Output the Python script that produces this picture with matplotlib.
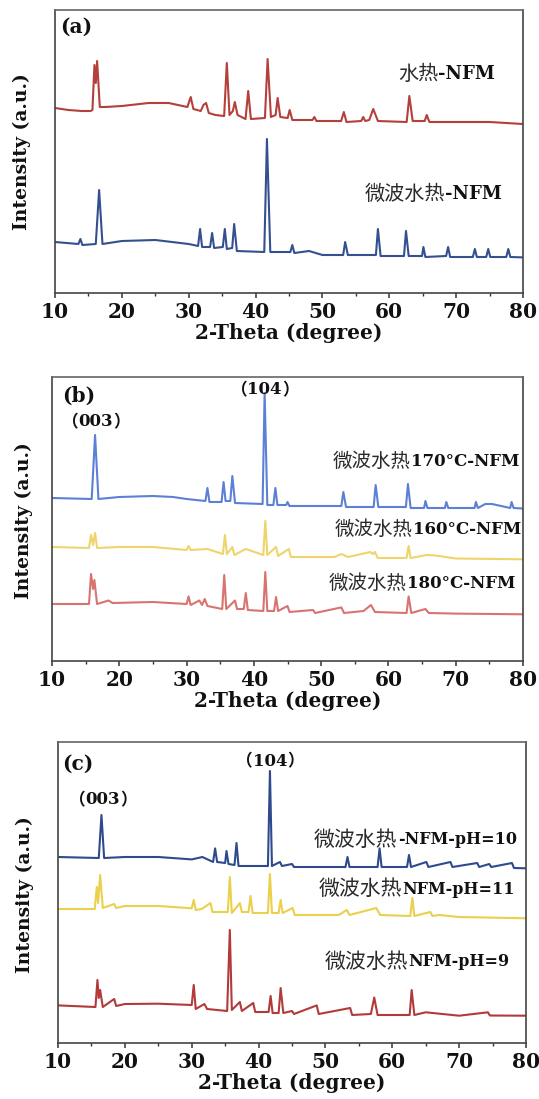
import matplotlib
matplotlib.use("Agg")
import matplotlib.pyplot as plt

# ---------------- data (2-theta in degrees, intensity in arbitrary units) ----------------
A_RED_X = [10, 12, 14, 15.3, 15.6, 15.9, 16.1, 16.3, 16.7, 17.5, 20, 24, 27, 29.8, 30.3, 30.7, 31.8, 32.2, 32.6, 33.0,
           34, 35.3, 35.7, 36.1, 36.6, 36.9, 37.3, 38.5, 38.9, 39.3, 41.4, 41.8, 42.3, 43.0, 43.3, 43.7, 44.8, 45.1,
           45.5, 48.5, 48.8, 49.1, 52.8, 53.2, 53.6, 55.8, 56.1, 56.4, 57.0, 57.6, 58.3, 62.6, 63.0, 63.5, 65.3,
           65.6, 66.0, 70, 75, 80]
A_RED_Y = [185, 183, 182, 182, 183, 228, 210, 232, 186, 186, 187, 190, 190, 186, 196, 184, 182, 188, 190, 180,
           178, 177, 230, 178, 182, 191, 178, 174, 202, 174, 175, 234, 176, 178, 195, 176, 175, 183,
           173, 173, 176, 172, 172, 181, 171, 172, 176, 172, 173, 184, 172, 171, 197, 172, 172,
           178, 171, 171, 171, 169]

A_BLUE_X = [10, 13.5, 13.8, 14.1, 16.1, 16.6, 17.1, 20, 25, 30, 31.4, 31.7, 32.0, 33.2, 33.5, 33.8, 35.1, 35.4, 35.7,
            36.5, 36.8, 37.2, 41.3, 41.7, 42.2, 45.2, 45.5, 45.8, 48, 50, 53.1, 53.4, 53.8, 58.0, 58.3, 58.7, 62.2,
            62.5, 62.9, 64.9, 65.1, 65.4, 68.5, 68.8, 69.1, 72.5, 72.8, 73.1, 74.5, 74.8, 75.1, 77.5, 77.8, 78.1, 80]
A_BLUE_Y = [51, 49, 54, 48, 49, 103, 49, 52, 53, 49, 47, 64, 46, 46, 60, 45, 46, 64, 44,
            45, 69, 42, 41, 154, 41, 41, 48, 40, 42, 38, 38, 51, 38, 38, 64, 37, 37,
            62, 37, 37, 46, 36, 37, 46, 36, 36, 44, 36, 36, 44, 36, 36, 44, 36, 35.6]

B_BLUE_X = [10, 15.9, 16.4, 16.9, 20, 25, 28, 30, 32.8, 33.1, 33.4, 35.2, 35.5, 35.8, 36.5, 36.8, 37.2, 41.3, 41.6,
            42.0, 42.9, 43.2, 43.5, 44.8, 45.0, 45.3, 52, 53.0, 53.3, 53.7, 57.8, 58.1, 58.5, 62.6, 62.9, 63.3,
            65.3, 65.5, 65.8, 68.4, 68.6, 68.9, 72.8, 73.0, 73.3, 74.4, 75.4, 78.1, 78.3, 78.6, 80]
B_BLUE_Y = [163, 162, 226, 162, 164, 165, 164, 162, 160, 173, 159, 159, 179, 160, 160, 185, 158, 157, 268,
            156, 156, 173, 156, 156, 159, 155, 155, 155, 169, 154, 154, 176, 154, 154, 177, 153,
            153, 160, 153, 153, 159, 153, 153, 159, 153, 157, 157, 153, 159, 153, 152.5]

B_YEL_X = [10, 15.5, 15.8, 16.1, 16.4, 16.7, 20, 25, 30, 30.3, 30.6, 33.1, 35.4, 35.7, 36.0, 36.8, 37.1, 38.8, 41.4,
           41.7, 42.0, 43.3, 43.6, 45.2, 45.5, 52, 53.0, 54, 57.3, 57.7, 58.0, 58.4, 62.7, 63.0, 63.3, 65.7, 67,
           70, 80]
B_YEL_Y = [114, 113, 126, 116, 128, 113, 114, 114, 111, 115, 111, 112, 107, 126, 107, 114, 106, 112, 106,
           140, 106, 114, 105, 112, 104, 104, 107, 104, 109, 107, 109, 103, 103, 115, 103, 106, 105.5,
           102.5, 101.7]

B_RED_X = [10, 15.5, 15.8, 16.1, 16.3, 16.7, 18.4, 19, 25, 30, 30.3, 30.6, 31.9, 32.3, 32.7, 33.1, 35.3, 35.6, 35.9,
           37.2, 37.5, 38.5, 38.8, 39.1, 41.4, 41.7, 42.0, 43.0, 43.3, 43.6, 45.0, 45.3, 48.8, 49.1, 53.0, 53.4,
           56.3, 57.4, 58.0, 62.7, 63.0, 63.4, 65.5, 66, 70, 80]
B_RED_Y = [57, 57, 87, 72, 81, 57, 60.5, 58, 59, 57, 64.6, 56, 60.5, 56, 62, 55, 52, 86, 52,
           60.5, 52, 52, 68, 51, 50, 89, 50, 50, 64, 50, 55, 49, 51, 48, 53.6, 48,
           50, 56, 49, 48, 64.6, 48, 52, 48, 47.4, 46.7]

C_BLUE_X = [10, 16.1, 16.5, 16.9, 20, 25, 30, 31.6, 33.2, 33.5, 33.8, 35.0, 35.2, 35.5, 36.4, 36.7, 37.0, 41.4, 41.7,
            42.0, 43.2, 43.5, 45.0, 45.3, 52, 53.0, 53.3, 53.6, 57.8, 58.1, 58.4, 62.2, 62.5, 62.8, 65.1, 65.4,
            68.7, 69, 72.7, 73, 74.5, 74.8, 77.9, 78.2, 80]
C_BLUE_Y = [186, 185, 228, 185, 186, 186, 183.6, 186, 181, 194.6, 181, 180, 192, 179, 178, 200, 177, 177, 272,
            177, 181, 177, 179, 176, 176, 176, 186, 176, 176, 194.6, 176, 176, 188, 176, 181, 176,
            181, 176, 180, 176, 179, 176, 180, 175, 174.7]

C_YEL_X = [10, 15.5, 15.8, 16.0, 16.3, 16.7, 18.4, 18.7, 20, 25, 30, 30.3, 30.6, 31.5, 32.8, 33.1, 35.4, 35.7, 36.0,
           37.2, 37.5, 38.5, 38.8, 39.1, 41.4, 41.7, 42.0, 43.0, 43.3, 43.6, 45.1, 45.4, 52, 53.2, 53.6, 57.6,
           58.2, 62.7, 63.0, 63.3, 65.7, 66, 67, 70, 80]
C_YEL_Y = [134, 134, 156, 140, 168, 135, 139, 135, 137, 137, 134.7, 143, 133, 134, 140, 131, 131, 166, 130,
           140, 131, 131, 147, 130, 130, 169, 130, 130, 143, 130, 135, 128, 128, 133, 128, 135,
           128, 127, 145, 127, 131, 127, 128, 126, 124.7]

C_RED_X = [10, 15.6, 15.9, 16.1, 16.3, 16.7, 18.4, 18.7, 20, 25, 30, 30.3, 30.6, 31.9, 32.3, 35.3, 35.7, 36.0, 37.2,
           37.5, 39.2, 39.5, 41.5, 41.8, 42.1, 43.0, 43.3, 43.7, 45.0, 45.3, 48.7, 49.0, 53.7, 54.0, 56.8, 57.3,
           57.8, 62.6, 62.9, 63.3, 65, 70, 74.3, 74.6, 80]
C_RED_Y = [37.6, 36, 63, 45, 53, 36, 44, 37, 39, 39.3, 38, 58, 34, 39, 34, 32, 113, 33, 41,
           32, 40, 31, 31, 47, 30, 30, 55, 30, 32, 29, 37.6, 29, 35, 28, 29, 45.5,
           28, 28, 53, 28, 30.7, 27.3, 30.7, 27.5, 27.3]

X_TICKS = [10, 20, 30, 40, 50, 60, 70, 80]
X_LABEL = "2-Theta (degree)"
Y_LABEL = "Intensity (a.u.)"

# ---------------- style ----------------
SERIF = "DejaVu Serif"
CJK = "Noto Sans CJK SC"
MIX = [CJK, SERIF]
TXT = "#111111"

W, H = 539, 1099
fig = plt.figure(figsize=(W / 100, H / 100), dpi=100)


def make_ax(left, top, right, bottom, ymax):
    ax = fig.add_axes([left / W, 1 - bottom / H, (right - left) / W, (bottom - top) / H])
    ax.set_xlim(10, 80)
    ax.set_ylim(0, ymax)
    ax.set_yticks([])
    ax.set_xticks(X_TICKS)
    ax.set_xticks([15, 25, 35, 45, 55, 65, 75], minor=True)
    ax.tick_params(axis="x", which="major", direction="out", length=3.5, width=1.1, color="#333333",
                   labelsize=14.5, pad=3)
    ax.tick_params(axis="x", which="minor", direction="out", length=2.2, width=1.0, color="#333333")
    for lab in ax.get_xticklabels():
        lab.set_fontfamily(SERIF)
        lab.set_fontweight("bold")
        lab.set_color(TXT)
    for s in ax.spines.values():
        s.set_color("#444444")
        s.set_linewidth(1.2)
    ax.spines["top"].set_color("#666666")
    ax.set_xlabel(X_LABEL, fontsize=14.5, fontweight="bold", family=SERIF, color=TXT, labelpad=1)
    return ax


def series_label(ax, x, y, cjk, latin, cjk_size, lat_size):
    t = ax.text(x, y, latin, ha="right", va="center", fontsize=lat_size, fontweight="bold",
                family=SERIF, color=TXT)
    ax.annotate(cjk, xy=(0, 0.5), xycoords=t, ha="right", va="center", fontsize=cjk_size,
                family=CJK, color="#2a2a2a")


def hkl_label(ax, x, y, hkl):
    t = ax.text(x, y, hkl, ha="center", va="center", fontsize=12, fontweight="bold",
                family=SERIF, color=TXT)
    ax.annotate("（", xy=(0, 0.5), xycoords=t, ha="right", va="center", fontsize=12,
                fontweight="bold", family=CJK, color=TXT)
    ax.annotate("）", xy=(1, 0.5), xycoords=t, ha="left", va="center", fontsize=12,
                fontweight="bold", family=CJK, color=TXT)


LW = 1.5

# ---------------- panel (a) ----------------
ax_a = make_ax(55, 10, 523, 293, 283)
ax_a.plot(A_RED_X, A_RED_Y, color="#b4403c", lw=LW)
ax_a.plot(A_BLUE_X, A_BLUE_Y, color="#34508f", lw=LW)
ax_a.text(10.7, 266, "(a)", ha="left", va="center", fontsize=14.5, fontweight="bold", family=SERIF, color=TXT)
series_label(ax_a, 75.8, 219, "水热", "-NFM", 14.5, 13)
series_label(ax_a, 76.9, 99, "微波水热", "-NFM", 14.5, 13)
fig.text(22 / W, 1 - 152 / H, Y_LABEL, rotation=90, ha="center", va="center", fontsize=13.5,
         fontweight="bold", family=SERIF, color=TXT)

# ---------------- panel (b) ----------------
ax_b = make_ax(52, 377, 523, 661, 284)
ax_b.plot(B_BLUE_X, B_BLUE_Y, color="#5b80d6", lw=LW)
ax_b.plot(B_YEL_X, B_YEL_Y, color="#efd46c", lw=LW)
ax_b.plot(B_RED_X, B_RED_Y, color="#d87470", lw=LW)
ax_b.text(11.5, 265, "(b)", ha="left", va="center", fontsize=14.5, fontweight="bold", family=SERIF, color=TXT)
hkl_label(ax_b, 41.6, 271, "104")
hkl_label(ax_b, 16.5, 239, "003")
series_label(ax_b, 79.4, 200, "微波水热", "170°C-NFM", 14, 12)
series_label(ax_b, 79.7, 132, "微波水热", "160°C-NFM", 14, 12)
series_label(ax_b, 78.8, 78, "微波水热", "180°C-NFM", 14, 12)
fig.text(24 / W, 1 - 521 / H, Y_LABEL, rotation=90, ha="center", va="center", fontsize=13.5,
         fontweight="bold", family=SERIF, color=TXT)

# ---------------- panel (c) ----------------
ax_c = make_ax(58, 742, 526, 1043, 301)
ax_c.plot(C_BLUE_X, C_BLUE_Y, color="#2e4a8c", lw=LW)
ax_c.plot(C_YEL_X, C_YEL_Y, color="#ead04c", lw=LW)
ax_c.plot(C_RED_X, C_RED_Y, color="#b33a3a", lw=LW)
ax_c.text(10.6, 279, "(c)", ha="left", va="center", fontsize=14.5, fontweight="bold", family=SERIF, color=TXT)
hkl_label(ax_c, 41.7, 282, "104")
hkl_label(ax_c, 16.7, 243, "003")
series_label(ax_c, 78.6, 203, "微波水热", "-NFM-pH=10", 15, 11.5)
series_label(ax_c, 78.35, 154, "微波水热", "NFM-pH=11", 15, 11.5)
series_label(ax_c, 77.45, 81, "微波水热", "NFM-pH=9", 15, 11.5)
fig.text(25 / W, 1 - 895 / H, Y_LABEL, rotation=90, ha="center", va="center", fontsize=13.5,
         fontweight="bold", family=SERIF, color=TXT)

fig.savefig("out.png", dpi=100)
